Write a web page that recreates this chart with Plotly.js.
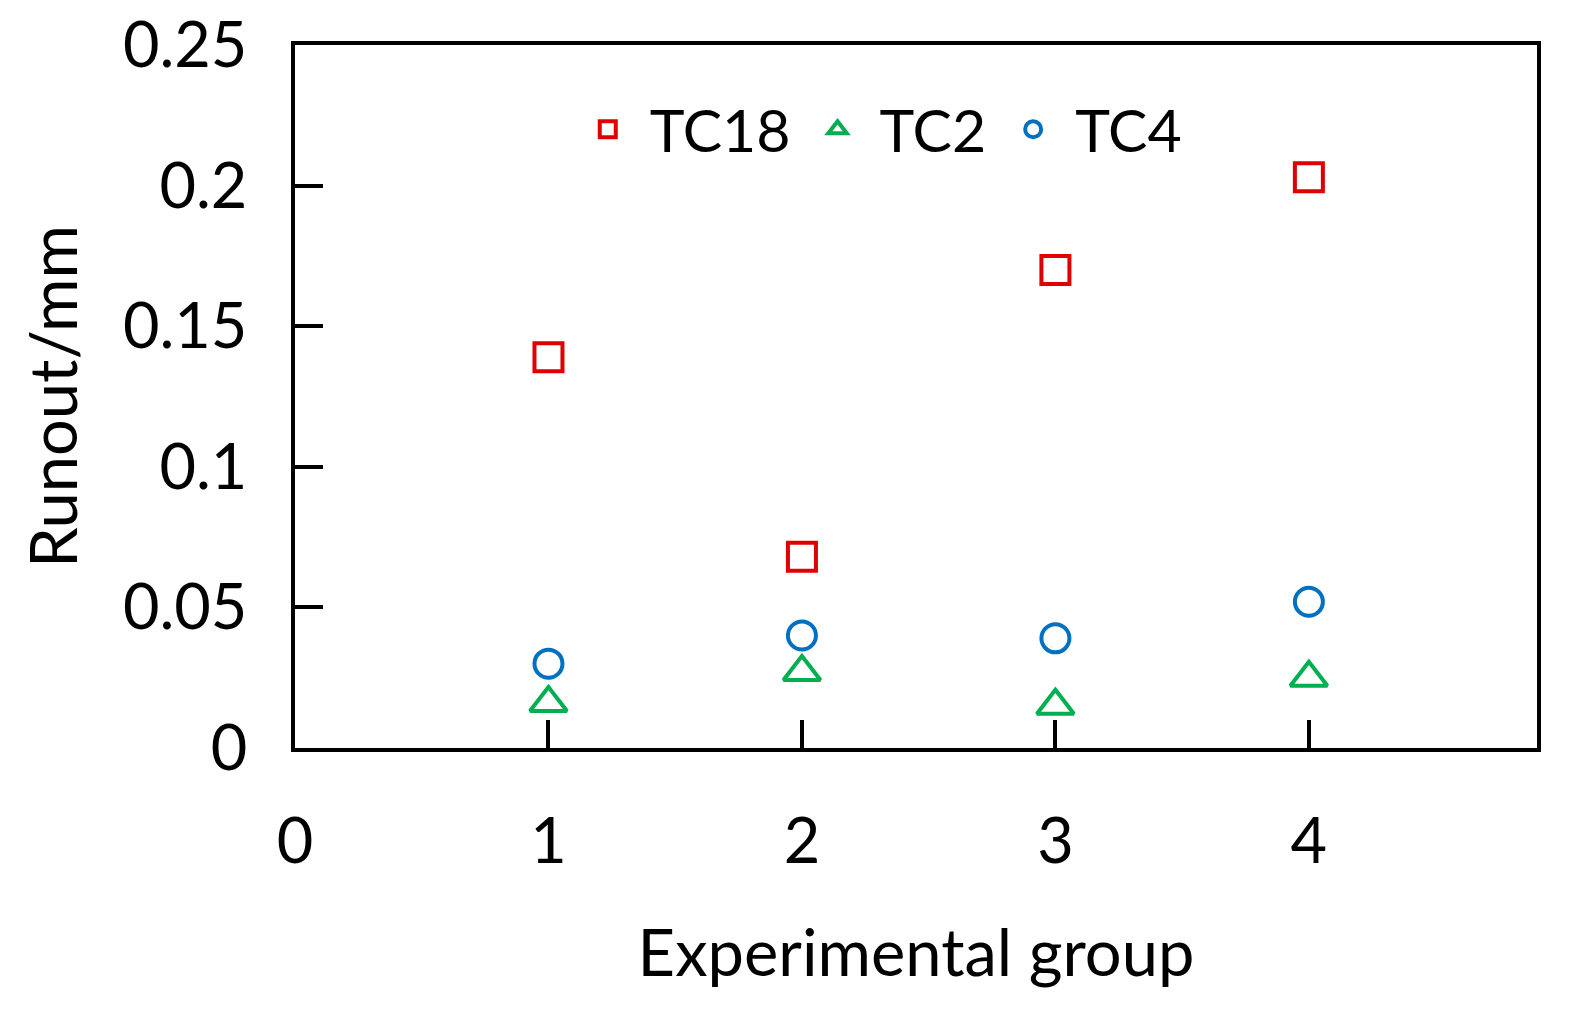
<!DOCTYPE html>
<html>
<head>
<meta charset="utf-8">
<script src="https://cdn.plot.ly/plotly-3.0.1.min.js"></script>
<style>html,body{margin:0;padding:0;background:#fff;}#chart{width:1572px;height:1011px;}</style>
</head>
<body>
<div id="chart"></div>
<script>
const groups = [1, 2, 3, 4];
const tc18 = [0.139, 0.068, 0.170, 0.203];
const tc2 = [0.016, 0.027, 0.015, 0.025];
const tc4 = [0.030, 0.040, 0.039, 0.052];
const xTicks = [0, 1, 2, 3, 4];
const yTicks = [0, 0.05, 0.1, 0.15, 0.2, 0.25];
const yTickText = ['0', '0.05', '0.1', '0.15', '0.2', '0.25'];

const FONT = 'Lato, "Open Sans", sans-serif';

function series(name, y, symbol, color, size) {
  return {
    type: 'scatter', mode: 'markers', name: name, x: groups, y: y,
    marker: {symbol: symbol, size: size, color: color, line: {width: 4, color: color}},
    cliponaxis: false
  };
}

const data = [
  series('TC18', tc18, 'square-open', '#E00000', 28),
  series('TC2', tc2, 'triangle-up-open', '#00B050', 32),
  series('TC4', tc4, 'circle-open', '#0070C0', 28)
];

const layout = {
  width: 1572, height: 1011,
  margin: {l: 295, r: 35, t: 45, b: 263},
  paper_bgcolor: '#fff', plot_bgcolor: '#fff',
  font: {family: FONT, size: 63, color: '#000'},
  showlegend: true,
  legend: {
    orientation: 'h', x: 0.468, xanchor: 'center', y: 0.88, yanchor: 'middle',
    font: {family: FONT, size: 59, color: '#000'}, bgcolor: 'rgba(0,0,0,0)',
    itemwidth: 74, traceorder: 'normal'
  },
  xaxis: {
    range: [0, 4.9], tickmode: 'array', tickvals: xTicks, ticktext: xTicks.map(String),
    showgrid: false, zeroline: false, showline: true, linecolor: '#000', linewidth: 4,
    mirror: true, ticks: 'inside', ticklen: 28, tickwidth: 4, tickcolor: '#000',
    ticklabelstandoff: 35,
    tickfont: {family: FONT, size: 63, color: '#000'},
    title: {text: 'Experimental group', font: {family: FONT, size: 65, color: '#000'}, standoff: 57}
  },
  yaxis: {
    range: [0, 0.25], tickmode: 'array', tickvals: yTicks, ticktext: yTickText,
    showgrid: false, zeroline: false, showline: true, linecolor: '#000', linewidth: 4,
    mirror: true, ticks: 'inside', ticklen: 28, tickwidth: 4, tickcolor: '#000',
    ticklabelstandoff: 31,
    tickfont: {family: FONT, size: 63, color: '#000'},
    title: {text: 'Runout/mm', font: {family: FONT, size: 65, color: '#000'}, standoff: 25}
  }
};

Plotly.newPlot('chart', data, layout, {displayModeBar: false, staticPlot: true});
</script>
</body>
</html>
